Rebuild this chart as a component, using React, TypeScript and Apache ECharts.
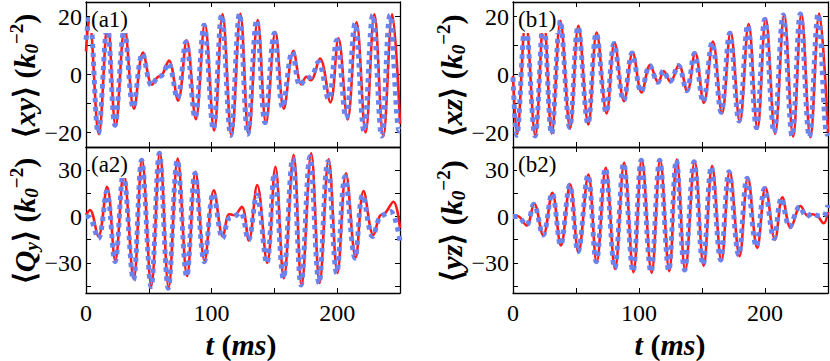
import React, { useEffect, useRef } from 'react';
import * as echarts from 'echarts';

// ---- axis ticks / labels ----
const xTicks = [0, 50, 100, 150, 200, 250];
const xTickLabels = [0, 100, 200];
const yTicksTop = [-20, -10, 0, 10, 20];
const yLabelsTop = [-20, 0, 20];
const yTicksBottom = [-45, -30, -15, 0, 15, 30, 45];
const yLabelsBottom = [-30, 0, 30];

const panelNames = ['(a1)', '(a2)', '(b1)', '(b2)'];
const yNames = ['xy', 'Q', 'xz', 'yz'];

// ---- data: [t (ms), value] read at extrema ----
const a1Red = [
  [0, 8], [2.5, 19.5], [10.2, -20.5], [17.3, 17.5], [23.6, -17.8], [30.8, 15.8], [38.2, -11.8], [45.4, 7.6],
  [52.6, -3.5], [57, -0.9], [60.5, -0.2], [66, 4.8], [73.3, -9], [80.2, 11.8], [87.4, -15.4], [94.6, 17.4],
  [102, -19.3], [108.7, 20.8], [115.9, -21.2], [122.9, 20.9], [129.5, -20.6], [136.7, 18.8], [143.3, -16.8],
  [150.8, 14.6], [157.5, -11.8], [165.2, 8.2], [171.5, -3.4], [175.5, -0.8], [179, -2], [186.3, 5.5],
  [194.6, -9.6], [201, 12.5], [208.3, -15.5], [215.4, 18], [222.6, -20], [229.6, 20.8], [236.7, -21.3],
  [243.8, 20.8], [250, -17],
];
const a1Blue = [
  [0, 12], [2.8, 20.5], [9.8, -20.3], [17, 17], [23.1, -17.5], [30.5, 15.5], [37.7, -11.4], [45, 7.2],
  [52.3, -3.8], [57, -0.8], [60.5, -0.3], [65.5, 3.9], [72.7, -8.2], [79.6, 11.2], [86.8, -14.9], [94, 17],
  [101.4, -18.9], [108, 20.5], [115.2, -21], [122.2, 20.9], [128.8, -20.6], [135.9, 18.8], [142.5, -16.6],
  [150, 14.2], [156.6, -11.4], [164.3, 7.8], [170.4, -3.8], [175, -1.5], [180, -0.5], [185, 4.3],
  [193, -8.5], [199.6, 11.8], [207, -14.9], [214.2, 17.6], [221.3, -19.5], [228.3, 20.5], [235.4, -21.2],
  [242, 20.5], [249.4, -19.5], [250, -19.3],
];
const a2Red = [
  [0, 1], [3.2, 4.2], [9.8, -13], [16.8, 19.3], [23.3, -28.5], [30, 28], [38, -40.5], [44.6, 37],
  [52, -45], [58.8, 41.5], [65.8, -46], [73, 37.5], [80.5, -38.5], [87.2, 29], [94.4, -28.5], [101.8, 17],
  [109, -13], [114, 1.5], [118, 0.8], [124, 6.3], [129.6, -15.5], [136.3, 20.4], [144.3, -30], [150.8, 32.2],
  [157.5, -40], [165.3, 39.8], [171.7, -44.3], [179.3, 40.9], [186, -43], [193.2, 37], [200.2, -36.5],
  [207, 28], [214.7, -26.5], [221, 16.5], [228.8, -12], [234, 0.5], [238, 2], [244.7, 9.6], [250, -7.5],
];
const a2Blue = [
  [0, 0], [3, -0.5], [9.8, -14.1], [16.5, 16], [23.1, -29.2], [29.7, 28], [37.7, -41], [44.3, 36.5],
  [51.8, -45.4], [58.4, 40.9], [65.5, -46.4], [72.7, 36.5], [80.2, -38.9], [86.8, 27.9], [94.2, -29.2],
  [101.4, 15], [108.8, -14.1], [113.5, -1.5], [118, 0], [123, 2.5], [129.2, -15.2], [135.9, 13.9],
  [143.9, -30.3], [150, 27.9], [157.1, -40], [164.5, 37.6], [171.2, -44.3], [178.3, 38.7], [185.5, -43.2],
  [192.4, 35.4], [199.6, -36.7], [206.2, 25.7], [214.2, -27], [220.3, 13.9], [228.3, -13], [233.5, -1],
  [238, 1.5], [242.5, 3.2], [250, -16],
];
const b1Red = [
  [0, -0.5], [3.2, -20.6], [10.1, 18.5], [17.7, -21], [24.4, 19], [30.8, -20.3], [37.6, 18.5], [45.3, -18.5],
  [51.9, 16.8], [59.8, -17.2], [66.4, 14.5], [74.3, -13.4], [80.6, 11], [88.1, -9.2], [95, 7.6], [102.1, -6.2],
  [108.8, 3.3], [115.3, -2.8], [119.6, 1.2], [125, -2.5], [131.6, 3.3], [138.3, -5.8], [144.6, 7.6],
  [151.5, -9.8], [158.6, 11.4], [165.9, -13.4], [172.7, 14.6], [180, -16.4], [187, 17.4], [194, -18.7],
  [200.6, 19.4], [208, -20.4], [215.2, 20.8], [222.3, -21.4], [228.9, 21], [236, -21.6], [243, 21], [250, -20],
];
const b1Blue = [
  [0, -1], [3, -21], [9.9, 18.5], [17.5, -21.2], [24.2, 19], [30.6, -20.5], [37.4, 18.5], [45, -18.3],
  [51.6, 16.5], [59.5, -17], [66.1, 14.2], [74, -13.1], [80.2, 10.7], [87.8, -9], [94.6, 7.4], [101.8, -6],
  [108.5, 3.1], [115, -2.7], [119.3, 1.3], [124.6, -2.4], [131.2, 3.1], [137.8, -5.6], [144, 7.2],
  [150.9, -9.5], [158, 11], [165.2, -13], [172, 14.2], [179.3, -16], [186.3, 17], [193.2, -18.3],
  [199.8, 19], [207.2, -20], [214.4, 20.5], [221.5, -21.2], [228, 20.9], [235.2, -21.5], [242.2, 20.9],
  [249.2, -20.6], [250, -20],
];
const b2Red = [
  [0, 0], [3.5, 0.3], [10.8, -5.8], [16.8, 8.3], [24, -12.3], [31.2, 15.3], [38, -18.8], [45.3, 20.8],
  [51.9, -23.2], [59.8, 27.2], [66.4, -29.6], [73.6, 31.6], [81, -34], [88.2, 34.8], [95.6, -36],
  [102.2, 36.8], [110, -36.4], [116.8, 36.8], [124, -35.4], [130, 36.8], [136.7, -35], [144.2, 35.8],
  [151.3, -32], [158, 32.6], [165.4, -28.8], [172, 29.4], [179.8, -25.6], [186.4, 25.2], [193.8, -20.4],
  [200.4, 18.8], [207.9, -15], [213.8, 12.4], [220.4, -7.4], [228.2, 6.8], [234, 0.5], [238, 1.5],
  [242, 0], [246.5, -4.4], [250, 3],
];
const b2Blue = [
  [0, 0], [3.5, 0], [10.6, -5.5], [16.5, 8], [23.8, -12], [31, 15], [37.8, -18.4], [45, 20.4],
  [51.6, -22.8], [59.5, 26.8], [66.1, -29.2], [73.3, 31.2], [80.7, -33.5], [87.8, 34.4], [95.2, -35.7],
  [101.8, 36.5], [109.5, -36], [116.4, 36.5], [123.6, -35], [129.6, 36.5], [136.2, -34.6], [143.7, 35.4],
  [150.8, -31.4], [157.4, 32.2], [164.8, -28.1], [171.4, 29], [179.1, -24.9], [185.7, 24.7], [193.1, -19.5],
  [199.7, 18.2], [207.1, -14.1], [213, 11.8], [219.6, -6.6], [227.5, 6.3], [233, 0], [237.5, 1.8],
  [242, 0.5], [246, 0], [250, 7.5],
];

const FONT = 'Liberation Serif';
const RED = '#ff1a1a';
const BLUE = '#6a83ef';

const grids = [
  { left: 86, top: 2, width: 314, height: 145 },
  { left: 86, top: 147, width: 314, height: 146 },
  { left: 513, top: 2, width: 315, height: 145 },
  { left: 513, top: 147, width: 315, height: 146 },
];

const fmtNum = (v: number) => (v < 0 ? '\u2212' + Math.abs(v) : String(v));

export default function App() {
  const ref = useRef<HTMLDivElement>(null);
  useEffect(() => {
    if (!ref.current) return;
    const chart = echarts.init(ref.current, undefined, { renderer: 'svg' });
    const lineAx = { show: true, onZero: false, lineStyle: { color: '#000', width: 1.3 } };
    const xAxes: any[] = [];
    const yAxes: any[] = [];
    grids.forEach((g, i) => {
      const bottomRow = i === 1 || i === 3;
      const yMin = bottomRow ? -49.5 : -25;
      const yMax = bottomRow ? 45 : 25;
      const yT = bottomRow ? yTicksBottom : yTicksTop;
      const yL = bottomRow ? yLabelsBottom : yLabelsTop;
      xAxes.push({
        type: 'value', gridIndex: i, position: 'bottom', min: 0, max: 250,
        axisLine: lineAx, splitLine: { show: false },
        axisTick: { show: true, inside: true, length: 5, customValues: xTicks, lineStyle: { color: '#000', width: 1 } },
        axisLabel: {
          show: bottomRow, customValues: xTickLabels, margin: 8,
          fontFamily: FONT, fontSize: 24, color: '#000', formatter: (v: number) => fmtNum(v),
        },
      });
      xAxes.push({
        type: 'value', gridIndex: i, position: 'top', min: 0, max: 250,
        axisLine: lineAx, splitLine: { show: false },
        axisTick: { show: true, inside: true, length: 5, customValues: xTicks, lineStyle: { color: '#000', width: 1 } },
        axisLabel: { show: false },
      });
      yAxes.push({
        type: 'value', gridIndex: i, position: 'left', min: yMin, max: yMax,
        axisLine: lineAx, splitLine: { show: false },
        axisTick: { show: true, inside: true, length: 5, customValues: yT, lineStyle: { color: '#000', width: 1 } },
        axisLabel: {
          show: true, customValues: yL, margin: 4,
          fontFamily: FONT, fontSize: 24, color: '#000', formatter: (v: number) => fmtNum(v),
        },
      });
      yAxes.push({
        type: 'value', gridIndex: i, position: 'right', min: yMin, max: yMax,
        axisLine: lineAx, splitLine: { show: false },
        axisTick: { show: true, inside: true, length: 5, customValues: yT, lineStyle: { color: '#000', width: 1 } },
        axisLabel: { show: false },
      });
    });

    const pairs = [
      [a1Red, a1Blue], [a2Red, a2Blue], [b1Red, b1Blue], [b2Red, b2Blue],
    ];
    const series: any[] = [];
    pairs.forEach((p, i) => {
      series.push({
        type: 'line', xAxisIndex: i * 2, yAxisIndex: i * 2, data: p[0], showSymbol: false,
        smooth: 0.38, lineStyle: { color: RED, width: 2.6 }, z: 2,
      });
      series.push({
        type: 'line', xAxisIndex: i * 2, yAxisIndex: i * 2, data: p[1], showSymbol: false,
        smooth: 0.38, lineStyle: { color: BLUE, width: 5, type: [4.5, 4.5], cap: 'butt' }, z: 3,
      });
    });

    const richBase = {
      m: { fontFamily: FONT, fontSize: 30, fontWeight: 'bold', fill: '#000' },
      i: { fontFamily: FONT, fontSize: 30, fontStyle: 'italic', fontWeight: 'bold', fill: '#000' },
      sub: { fontFamily: FONT, fontSize: 19, fontStyle: 'italic', fontWeight: 'bold', fill: '#000', verticalAlign: 'bottom' },
      sup: { fontFamily: FONT, fontSize: 19, fontWeight: 'bold', fill: '#000', verticalAlign: 'top' },
    };
    const yLabelPos = [[24, 76], [24, 221], [451, 76], [451, 221]];
    const yLabelText = (i: number) => {
      const sym = yNames[i];
      const inner = sym === 'Q' ? '{i|Q}{sub|y}' : `{i|${sym}}`;
      return `{m|\u27E8}${inner}{m|\u27E9 (}{i|k}{sub|0}{sup|\u22122}{m|)}`;
    };
    const graphics: any[] = [];
    yLabelPos.forEach((pos, i) => {
      graphics.push({
        type: 'text', x: pos[0], y: pos[1], rotation: Math.PI / 2, z: 100,
        style: { text: yLabelText(i), rich: richBase, align: 'center', verticalAlign: 'middle', lineHeight: 34 },
      });
    });
    [[241, 344], [670, 344]].forEach((pos) => {
      graphics.push({
        type: 'text', x: pos[0], y: pos[1], z: 100,
        style: { text: '{i|t}{m| (}{i|ms}{m|)}', rich: richBase, align: 'center', verticalAlign: 'middle' },
      });
    });
    const panelPos = [[90, 7], [90, 152], [517, 7], [517, 152]];
    panelPos.forEach((pos, i) => {
      graphics.push({
        type: 'text', x: pos[0], y: pos[1], z: 100,
        style: {
          text: panelNames[i], fontFamily: FONT, fontSize: 23, fill: '#000',
          backgroundColor: '#fff', padding: [1, 1, 2, 1], align: 'left', verticalAlign: 'top',
        },
      });
    });

    chart.setOption({
      animation: false,
      grid: grids.map((g) => ({ ...g, containLabel: false })),
      xAxis: xAxes,
      yAxis: yAxes,
      series,
      graphic: graphics,
    });
    return () => chart.dispose();
  }, []);
  return <div ref={ref} style={{ position: 'absolute', left: 0, top: 0, width: 830, height: 361, background: '#fff' }} />;
}
